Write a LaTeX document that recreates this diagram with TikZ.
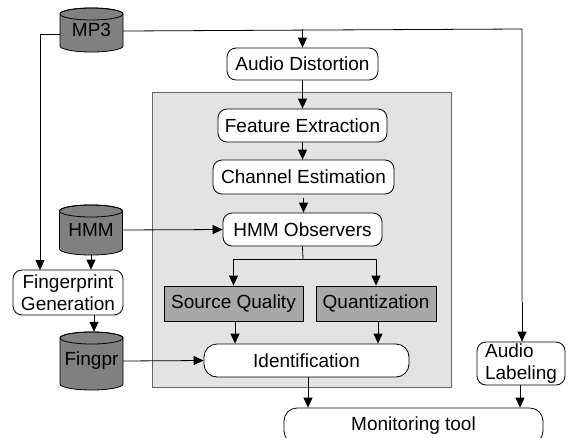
\documentclass[tikz,border=0pt]{standalone}
\usepackage{fontspec}
\setmainfont{Liberation Sans}
\usetikzlibrary{arrows.meta,calc}
\tikzset{
  every node/.style={font=\fontsize{19}{22}\selectfont, inner sep=0pt},
  rbox/.style={draw=black, fill=white, rounded corners=9pt, line width=0.8pt},
  gbox/.style={draw=black, fill=black!34, line width=0.8pt},
  cylfill/.style={draw=black, fill=black!50, line width=0.8pt},
  arr/.style={line width=0.8pt, -{Triangle[length=10pt,width=9pt]}},
  ln/.style={line width=0.8pt},
}
% name, cx, top, bottom, text
\newcommand\mycyl[5]{%
  \path[cylfill] (#2-31.5,#3+6) -- (#2-31.5,#4-6)
     arc[start angle=180,end angle=0,x radius=31.5,y radius=6]
     -- (#2+31.5,#3+6)
     arc[start angle=0,end angle=-180,x radius=31.5,y radius=6] -- cycle;
  \draw[line width=0.8pt] (#2,#3+6) ellipse[x radius=31.5,y radius=6];
  \node[minimum width=63pt, minimum height=#4-#3] (#1) at (#2,{(#3+#4)/2}) {#5};
}
\begin{document}
\begin{tikzpicture}[x=1pt,y=-1pt]
\useasboundingbox (0,0) rectangle (570,437);
\begin{scope}
\clip (0,0) rectangle (570,437);
% gray panel
\draw[fill=black!11, draw=black!60, line width=0.8pt] (152,92) rectangle (451,387);

\mycyl{mp3}{91.5}{8}{52}{MP3}
\mycyl{hmm}{91}{205}{255}{HMM}
\mycyl{fdb}{91.5}{332}{390}{Fingpr}

\node[rbox, minimum width=151pt, minimum height=32pt] (dist) at (302.5,64) {Audio Distortion};
\node[rbox, minimum width=169pt, minimum height=33pt] (feat) at (302.5,125.5) {Feature Extraction};
\node[rbox, minimum width=181pt, minimum height=34pt] (chan) at (303.5,177) {Channel Estimation};
\node[rbox, minimum width=159pt, minimum height=33pt] (obs) at (302.5,229.5) {HMM Observers};
\node[gbox, minimum width=139pt, minimum height=35pt] (sq) at (233.5,303.5) {Source Quality};
\node[gbox, minimum width=120pt, minimum height=35pt] (quant) at (376,303.5) {Quantization};
\node[rbox, rounded corners=13pt, minimum width=205pt, minimum height=33pt] (ident) at (306.5,360.5) {Identification};
\node[rbox, align=center, minimum width=110pt, minimum height=45pt, font=\fontsize{19}{22.5}\selectfont] (fgen) at (68,292.5) {Fingerprint\\Generation};
\node[rbox, align=left, minimum width=88pt, minimum height=43pt, font=\fontsize{19}{22.5}\selectfont] (lab) at (521,363.5) {Audio\\Labeling};
\node[rbox, rounded corners=13pt, minimum width=259pt, minimum height=36pt] (mon) at (413.5,426) {Monitoring tool};

% connectors
\draw[ln] ([yshift=-4pt]mp3.west) -| (40,150);
\draw[arr] (40,150) -- (40,270) coordinate (fgtop);
\draw[ln] ([yshift=-1pt]mp3.east) -- ($(lab.north |- mp3.east)+(1,-1)$) -- ($(lab.north)+(1,-40)$);
\draw[arr] ($(lab.north)+(1,-40)$) -- ([xshift=1pt]lab.north);
\draw[arr] (dist.north |- 0,29) -- (dist.north);
\draw[arr] (dist.south) -- (feat.north);
\draw[arr] (feat.south) -- (feat.south |- chan.north);
\draw[arr] (chan.south |- obs.north) ++(0,-15) -- (chan.south |- obs.north);
\draw[arr] (hmm.east) -- (obs.west);
\draw[arr] (hmm.south) -- (hmm.south |- fgen.north);
\draw[arr] ([xshift=26pt]fgen.south) -- ([xshift=26pt]fgen.south |- fdb.north);
\draw[arr] (fdb.east) -- (ident.west);
\draw[ln] (obs.south) -- (303,259) coordinate (br);
\draw[arr] (br) -| (sq.north);
\draw[arr] (br) -| (quant.north);
\draw[arr] ([xshift=1.5pt]sq.south) -- ([xshift=1.5pt]sq.south |- ident.north);
\draw[arr] ([xshift=2pt]quant.south) -- ([xshift=2pt]quant.south |- ident.north);
\draw[arr] ([xshift=1.5pt]ident.south) -- ([xshift=1.5pt]ident.south |- mon.north);
\draw[arr] ([xshift=-1pt]lab.south) -- ([xshift=-1pt]lab.south |- mon.north);
\end{scope}
\end{tikzpicture}
\end{document}
